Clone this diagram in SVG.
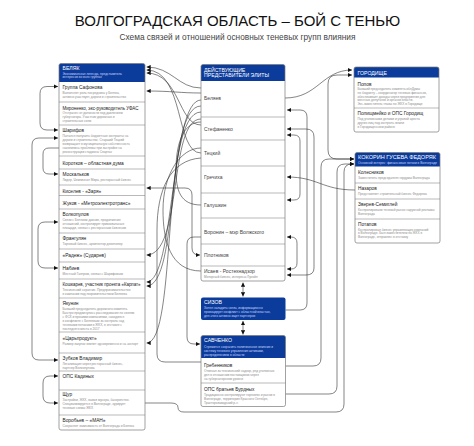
<svg xmlns="http://www.w3.org/2000/svg" width="474" height="446" viewBox="0 0 474 446">
<defs>
<marker id="ar" viewBox="0 0 10 10" refX="10" refY="5" markerWidth="4.2" markerHeight="4.2" markerUnits="userSpaceOnUse" orient="auto-start-reverse"><path d="M0,0 L10,5 L0,10 Z" fill="#111"/></marker>
</defs>
<style>
text{font-family:"Liberation Sans",Arial,sans-serif}
.box{fill:none;stroke:#7a7a7a;stroke-width:0.7}
.bg{fill:#fff}
.hdr{fill:#0b3b9b}
.sep{stroke:#8a8a8a;stroke-width:0.6}
.t{font-size:4.8px;fill:#222}
.m{font-size:5px;fill:#444}
.d{font-size:3.2px;fill:#8c8c8c}
.h{font-size:5.2px;fill:#fff}
.hs{font-size:3.2px;fill:#c9d7ff}
.c{fill:none;stroke:#333;stroke-width:0.6}
</style>
<rect width="474" height="446" fill="#fff"/>
<text x="237.5" y="26" text-anchor="middle" font-size="15" fill="#111">ВОЛГОГРАДСКАЯ ОБЛАСТЬ – БОЙ С ТЕНЬЮ</text>
<text x="237.5" y="39.5" text-anchor="middle" font-size="8.3" fill="#444">Схема связей и отношений основных теневых групп влияния</text>

<g id="connectors">
<path class="c" d="M58,86.5 H47 Q40,86.5 40,93.5 V123 Q40,130 47,130 H58" marker-start="url(#ar)" marker-end="url(#ar)"/>
<path class="c" d="M58,138 H39 Q32,138 32,145 V353 Q32,360 39,360 H58" marker-start="url(#ar)" marker-end="url(#ar)"/>
<path class="c" d="M59,148 H49 Q43,148 43,154 V168 Q43,174 49,174 H58" marker-end="url(#ar)"/>
<path class="c" d="M58,222 H45 Q38,222 38,229 V261 Q38,268 45,268 H58" marker-start="url(#ar)" marker-end="url(#ar)"/>
<path class="c" d="M58,376 H50 Q43,376 43,383 V396 Q43,403 50,403 H58" marker-start="url(#ar)" marker-end="url(#ar)"/>
<path class="c" d="M201,88 C178,88 172,67 146.5,67" marker-end="url(#ar)"/>
<path class="c" d="M201,153 C175,153 185,70 146.5,70" marker-end="url(#ar)"/>
<path class="c" d="M201,125 C178,125 180,73 146.5,73" marker-end="url(#ar)"/>
<path class="c" d="M201,93 C180,93 172,91 146.5,91" marker-end="url(#ar)"/>
<path class="c" d="M201,100 C170,100 175,282 146.5,282" marker-end="url(#ar)"/>
<path class="c" d="M201,106 C165,106 180,286 146.5,286" marker-end="url(#ar)"/>
<path class="c" d="M201,112 C160,112 178,343 146.5,343" marker-end="url(#ar)"/>
<path class="c" d="M201,119 C168,119 183,255 146.5,255" marker-end="url(#ar)"/>
<path class="c" d="M146.5,188 H185 Q192,188 192,195 V248 Q192,255 199,255 H200" marker-start="url(#ar)" marker-end="url(#ar)"/>
<path class="c" d="M201,237 H194 Q187,237 187,244 V337 Q187,344 194,344 H200" marker-end="url(#ar)"/>
<path class="c" d="M201,158 C170,160 157,190 157,230 V354 Q157,362 165,362 H201"/>
<path class="c" d="M201,271 C170,271 163,240 163,210 C163,175 180,148 201,148"/>
<path class="c" d="M201,205 C180,205 176,190 176,170 C176,140 185,122 201,122"/>
<path class="c" d="M145,403 H171 Q178,403 178,407.5 Q178,412 184,412 H336 Q344,412 344,404 V172 Q344,164 352,164 H354" marker-end="url(#ar)"/>
<path class="c" d="M285,98 C318,98 322,70 352,70" marker-end="url(#ar)"/>
<path class="c" d="M352,75 H337 Q328,75 328,84 V150 Q328,159 337,159 H354" marker-start="url(#ar)" marker-end="url(#ar)"/>
<path class="c" d="M285.5,310 H300 Q307,310 307,303 V117 Q307,110 300,110 H287" marker-end="url(#ar)"/>
<path class="c" d="M287,129 H306 Q314,129 314,137 V268 Q314,275 306,275 H287" marker-start="url(#ar)" marker-end="url(#ar)"/>
<path class="c" d="M287,135 H294 Q300,135 300,141 V194 Q300,200 294,200 H287" marker-start="url(#ar)" marker-end="url(#ar)"/>
<path class="c" d="M287,237 H291 Q297,237 297,243 V263 Q297,269 291,269 H287" marker-start="url(#ar)" marker-end="url(#ar)"/>
<path class="c" d="M355,190 C322,190 318,177 287,177" marker-end="url(#ar)"/>
<path class="c" d="M285.5,366 H313 Q321,366 321,358 V167 Q321,159 329,159 H354" marker-end="url(#ar)"/>
<path class="c" d="M285.5,394 H329 Q337,394 337,386 V172 Q337,164 345,164 H354" marker-end="url(#ar)"/>
<path class="c" d="M243,282.5 V296.5" marker-start="url(#ar)" marker-end="url(#ar)"/>
<path class="c" d="M243,321 V334.5" marker-start="url(#ar)" marker-end="url(#ar)"/>
</g>

<g id="belyak">
<rect class="bg" x="59" y="63.5" width="86" height="366.5" rx="2"/>
<path class="hdr" d="M59,82 V65.5 Q59,63.5 61,63.5 H143 Q145,63.5 145,65.5 V82 Z"/>
<text class="h" x="62.5" y="70">БЕЛЯК</text>
<text class="hs" x="62.5" y="74.5">Экономическая легенда, представитель</text>
<text class="hs" x="62.5" y="78.3">интересов во всех группах</text>
<line class="sep" x1="59" y1="102" x2="145" y2="102"/>
<line class="sep" x1="59" y1="125" x2="145" y2="125"/>
<line class="sep" x1="59" y1="156" x2="145" y2="156"/>
<line class="sep" x1="59" y1="169" x2="145" y2="169"/>
<line class="sep" x1="59" y1="185" x2="145" y2="185"/>
<line class="sep" x1="59" y1="195.5" x2="145" y2="195.5"/>
<line class="sep" x1="59" y1="209" x2="145" y2="209"/>
<line class="sep" x1="59" y1="233" x2="145" y2="233"/>
<line class="sep" x1="59" y1="249" x2="145" y2="249"/>
<line class="sep" x1="59" y1="262" x2="145" y2="262"/>
<line class="sep" x1="59" y1="279" x2="145" y2="279"/>
<line class="sep" x1="59" y1="298" x2="145" y2="298"/>
<line class="sep" x1="59" y1="332" x2="145" y2="332"/>
<line class="sep" x1="59" y1="353" x2="145" y2="353"/>
<line class="sep" x1="59" y1="371" x2="145" y2="371"/>
<line class="sep" x1="59" y1="390" x2="145" y2="390"/>
<line class="sep" x1="59" y1="415" x2="145" y2="415"/>
<text class="t" x="62.5" y="88.8">Группа Сафонова</text>
<text class="d" x="62.5" y="93.5">Выполняет роль посредника у Беляка,</text>
<text class="d" x="62.5" y="97.5">активно участвует, дороги и строительство</text>
<text class="t" x="62.5" y="109.5" textLength="76" lengthAdjust="spacingAndGlyphs">Мироненко, экс-руководитель УФАС</text>
<text class="d" x="62.5" y="114.3">Отстранен от должности под давлением</text>
<text class="d" x="62.5" y="118.3">губернатора. Участник дорожных и</text>
<text class="d" x="62.5" y="122.3">строительных схем</text>
<text class="t" x="62.5" y="132">Шарифов</text>
<text class="d" x="62.5" y="136.8">Пытался получить бюджетные контракты на</text>
<text class="d" x="62.5" y="140.8">дороги и строительство. Старший Тецкий</text>
<text class="d" x="62.5" y="144.8">возвращает в муниципальную собственность</text>
<text class="d" x="62.5" y="148.8">накопились проблемы при застройке на</text>
<text class="d" x="62.5" y="152.8">реконструкции стадиона Спартак</text>
<text class="t" x="62.5" y="164.5">Коротков – областная дума</text>
<text class="t" x="62.5" y="175.8">Москальков</text>
<text class="d" x="62.5" y="180.8">Лидер, Чемпионат Мира, ресторанный бизнес</text>
<text class="t" x="62.5" y="192.5">Киселев - «Заря»</text>
<text class="t" x="62.5" y="204.5">Жуков - «Метроэлектротранс»</text>
<text class="t" x="62.5" y="215.8">Волкопулов</text>
<text class="d" x="62.5" y="220.5">Связи с Беляком давние, продолжение</text>
<text class="d" x="62.5" y="224.5">отношений, контролирует привокзальные</text>
<text class="d" x="62.5" y="228.5">площади, связан с ресторанным бизнесом</text>
<text class="t" x="62.5" y="239.5">Франгулян</text>
<text class="d" x="62.5" y="244.5">Торговый бизнес, архитектор девелопер</text>
<text class="t" x="62.5" y="257.3">«Радеж» (Сударев)</text>
<text class="t" x="62.5" y="269.8">Набиев</text>
<text class="d" x="62.5" y="274.8">Местный Газпром, связан с Шарифовым</text>
<text class="t" x="62.5" y="285.8" textLength="78" lengthAdjust="spacingAndGlyphs">Кошкарев, участник проекта «Карпат»</text>
<text class="d" x="62.5" y="290.5">Технический соратник. Предпринимательство</text>
<text class="d" x="62.5" y="294.5">в кампании под покровительством Беляева</text>
<text class="t" x="62.5" y="304.8">Якунин</text>
<text class="d" x="62.5" y="309.5">Бывший председатель дорожного комитета.</text>
<text class="d" x="62.5" y="313.5">Быстро продвинулось расследование по связям</text>
<text class="d" x="62.5" y="317.5">с ФСК и прочими компаниями, находился</text>
<text class="d" x="62.5" y="321.5">в конфликте с Беляевым за контроль над</text>
<text class="d" x="62.5" y="325.5">теневыми потоками в ЖКХ, в отставке с</text>
<text class="d" x="62.5" y="329.5">последнего места в 2017</text>
<text class="t" x="62.5" y="339.8">«Царьпродукт»</text>
<text class="d" x="62.5" y="344.8">Размер закупок влияет одновременно и на экспорт</text>
<text class="t" x="62.5" y="359.8">Зубков Владимир</text>
<text class="d" x="62.5" y="364.5">Легализация через ресторанный бизнес,</text>
<text class="d" x="62.5" y="368.5">партнер Волкопулова</text>
<text class="t" x="62.5" y="377.8">ОПС Кадиных</text>
<text class="t" x="62.5" y="396.3">Щур</text>
<text class="d" x="62.5" y="401">Застройки, ЖКХ, вывоз мусора, банкротство.</text>
<text class="d" x="62.5" y="405">Специализируется в Волгограде, курирует</text>
<text class="d" x="62.5" y="409">теневые схемы ЖКХ</text>
<text class="t" x="62.5" y="421.8">Воробьев – «МАН»</text>
<text class="d" x="62.5" y="426.5">Сохраняет зависимость от Волгограда и Беляка</text>
<rect class="box" x="59" y="63.5" width="86" height="366.5" rx="2"/>
</g>

<g id="elite">
<rect class="bg" x="201" y="64.5" width="84" height="216.5" rx="2"/>
<path class="hdr" d="M201,81 V66.5 Q201,64.5 203,64.5 H283 Q285,64.5 285,66.5 V81 Z"/>
<text class="h" x="204" y="71.5">ДЕЙСТВУЮЩИЕ</text>
<text class="h" x="204" y="77">ПРЕДСТАВИТЕЛИ ЭЛИТЫ</text>
<line class="sep" x1="201" y1="117" x2="285" y2="117"/>
<line class="sep" x1="201" y1="140" x2="285" y2="140"/>
<line class="sep" x1="201" y1="166" x2="285" y2="166"/>
<line class="sep" x1="201" y1="193" x2="285" y2="193"/>
<line class="sep" x1="201" y1="218" x2="285" y2="218"/>
<line class="sep" x1="201" y1="244" x2="285" y2="244"/>
<line class="sep" x1="201" y1="266" x2="285" y2="266"/>
<text class="m" x="204" y="99.8">Беляев</text>
<text class="m" x="204" y="130.8">Стефаненко</text>
<text class="m" x="204" y="154.8">Тецкий</text>
<text class="m" x="204" y="178.8">Гречиха</text>
<text class="m" x="204" y="206.8">Галушкин</text>
<text class="m" x="204" y="233.8">Воронин – мэр Волжского</text>
<text class="m" x="204" y="256.8">Плотников</text>
<text class="m" x="204" y="272.5">Исаев  - Ростехнадзор</text>
<text class="d" x="204" y="277.5">Моторный бизнес, интересы Лукойл</text>
<rect class="box" x="201" y="64.5" width="84" height="216.5" rx="2"/>
</g>

<g id="sizov">
<rect class="hdr" x="201" y="297.5" width="84.5" height="22.5" rx="2"/>
<text class="h" x="204" y="304">СИЗОВ</text>
<text class="hs" x="204" y="309">Хотел наладить связь, информационно</text>
<text class="hs" x="204" y="313">провоцирует конфликт с областной властью,</text>
<text class="hs" x="204" y="317">для этого активно ищет партнеров</text>
</g>

<g id="savchenko">
<rect class="bg" x="201" y="335.5" width="84.5" height="71" rx="2"/>
<path class="hdr" d="M201,358 V337.5 Q201,335.5 203,335.5 H283.5 Q285.5,335.5 285.5,337.5 V358 Z"/>
<text class="h" x="204" y="342">САВЧЕНКО</text>
<text class="hs" x="204" y="347.5">Стремится сохранить политическое влияние и</text>
<text class="hs" x="204" y="351.5">систему теневого управления активами,</text>
<text class="hs" x="204" y="355.5">распределением в области</text>
<line class="sep" x1="201" y1="383" x2="285.5" y2="383"/>
<text class="t" x="204" y="366.8">Гребенников</text>
<text class="d" x="204" y="371.5">Отвечал за технический надзор, ряд уголовных</text>
<text class="d" x="204" y="375.5">дел в отношении поставщиков через</text>
<text class="d" x="204" y="379.5">на губернаторском уровне</text>
<text class="t" x="204" y="390.8">ОПС братьев Бурдных</text>
<text class="d" x="204" y="395.5">Традиционно контролируют торговлю и рынки в</text>
<text class="d" x="204" y="399.5">Волгограде, территория Красного Октября,</text>
<text class="d" x="204" y="403.5">Тракторозаводский р-н</text>
<rect class="box" x="201" y="335.5" width="84.5" height="71" rx="2"/>
</g>

<g id="gorodishche">
<rect class="bg" x="354" y="67" width="85" height="65" rx="2"/>
<path class="hdr" d="M354,77.5 V69 Q354,67 356,67 H437 Q439,67 439,69 V77.5 Z"/>
<text class="h" x="357.5" y="74.5">ГОРОДИЩЕ</text>
<line class="sep" x1="354" y1="108" x2="439" y2="108"/>
<text class="t" x="357.5" y="85.8">Попов</text>
<text class="d" x="357.5" y="90.3">Бывший председатель комитета облДумы</text>
<text class="d" x="357.5" y="94">по бюджету – координатор теневых финансов,</text>
<text class="d" x="357.5" y="97.7">обеспечивает доходы через предприятия для</text>
<text class="d" x="357.5" y="101.4">местных депутатов и органов власти.</text>
<text class="d" x="357.5" y="105.1">Экс-заместитель главы по ЖКХ в Городище</text>
<text class="t" x="357.5" y="114.8">Полищмейко и ОПС Городищ</text>
<text class="d" x="357.5" y="119.5">Под уголовными делами и угрозой ареста</text>
<text class="d" x="357.5" y="123.5">других лиц под контроль земли</text>
<text class="d" x="357.5" y="127.5">в Городищенском районе</text>
<rect class="box" x="354" y="67" width="85" height="65" rx="2"/>
</g>

<g id="kokorin">
<rect class="bg" x="355" y="152.5" width="85" height="90.5" rx="2"/>
<path class="hdr" d="M355,166.5 V154.5 Q355,152.5 357,152.5 H438 Q440,152.5 440,154.5 V166.5 Z"/>
<text class="h" x="358" y="159" textLength="78" lengthAdjust="spacingAndGlyphs">КОКОРИН ГУСЕВА ФЕДОРЯК</text>
<text class="hs" x="358" y="163.8">Основной интерес: финансовые потоки в Волгограде</text>
<line class="sep" x1="355" y1="183" x2="440" y2="183"/>
<line class="sep" x1="355" y1="199" x2="440" y2="199"/>
<line class="sep" x1="355" y1="219" x2="440" y2="219"/>
<text class="t" x="358" y="173.8">Колесников</text>
<text class="d" x="358" y="178.5">Заместитель председателя гордумы Волгограда</text>
<text class="t" x="358" y="190">Назаров</text>
<text class="d" x="358" y="195">Представляет строительный бизнес Федоряка</text>
<text class="t" x="358" y="206.3">Зверев-Семиглей</text>
<text class="d" x="358" y="211">Контролировали теневой рынок наружной рекламы</text>
<text class="d" x="358" y="215">Волгограда</text>
<text class="t" x="358" y="225.8">Потапов</text>
<text class="d" x="358" y="230.5">Контролировал бизнес управляющих компаний</text>
<text class="d" x="358" y="234.3">в Волгограде. Был заместителем по ЖКХ в</text>
<text class="d" x="358" y="238.1">Волгограде, отправлен в отставку</text>
<rect class="box" x="355" y="152.5" width="85" height="90.5" rx="2"/>
</g>
</svg>
